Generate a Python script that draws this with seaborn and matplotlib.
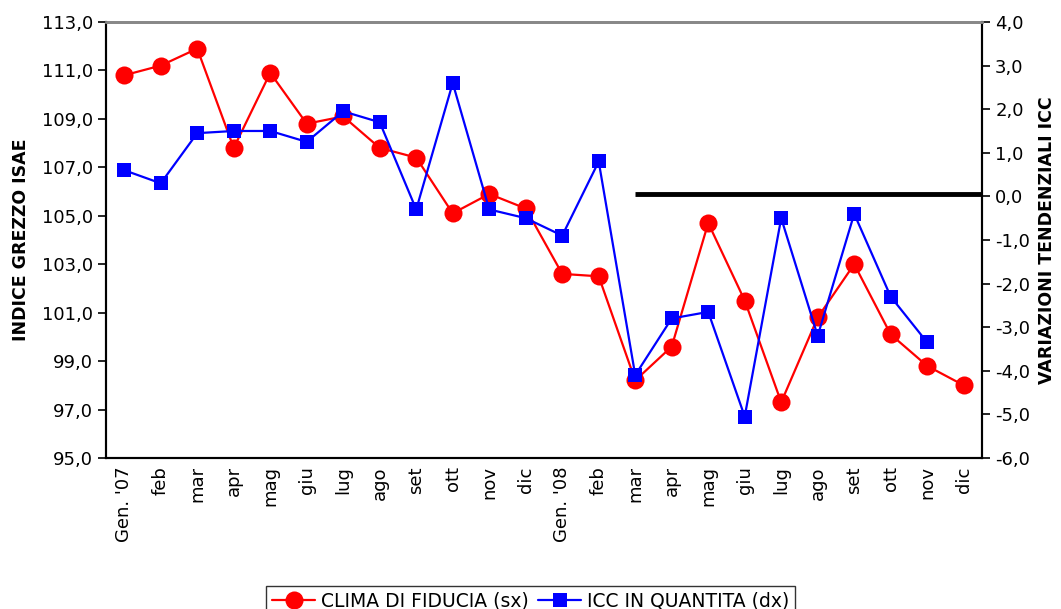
import numpy as np
import pandas as pd
import matplotlib
matplotlib.use("Agg")
import matplotlib.pyplot as plt
from matplotlib.ticker import FuncFormatter
import seaborn as sns

# dati
mesi = ["Gen. '07", "feb", "mar", "apr", "mag", "giu", "lug", "ago", "set", "ott", "nov", "dic",
        "Gen. '08", "feb", "mar", "apr", "mag", "giu", "lug", "ago", "set", "ott", "nov", "dic"]
clima = [110.8, 111.2, 111.9, 107.8, 110.9, 108.8, 109.1, 107.8, 107.4, 105.1, 105.9, 105.3,
         102.6, 102.5, 98.2, 99.6, 104.7, 101.5, 97.3, 100.8, 103.0, 100.1, 98.8, 98.0]
icc = [0.6, 0.3, 1.45, 1.5, 1.5, 1.25, 1.95, 1.7, -0.3, 2.6, -0.3, -0.5,
       -0.9, 0.8, -4.1, -2.8, -2.65, -5.05, -0.5, -3.2, -0.4, -2.3, -3.35]
soglia = 0.05
soglia_da = 14  # mar '08

sns.set_style("white")
plt.rcParams['font.family'] = ['DejaVu Sans']
plt.rcParams['text.color'] = 'black'
plt.rcParams['axes.labelcolor'] = 'black'
plt.rcParams['xtick.color'] = 'black'
plt.rcParams['ytick.color'] = 'black'

df1 = pd.DataFrame({'pos': np.arange(len(clima)), 'valore': clima})
df2 = pd.DataFrame({'pos': np.arange(len(icc)), 'valore': icc})

fig = plt.figure(figsize=(10.61, 6.09), dpi=100)
ax = fig.add_axes([0.0999, 0.248, 0.8256, 0.7159])
ax2 = ax.twinx()

sns.lineplot(data=df1, x='pos', y='valore', ax=ax, color='#ff0000', marker='o',
             markersize=13, markeredgewidth=0, linewidth=1.6, label='CLIMA DI FIDUCIA (sx)', legend=False)
sns.lineplot(data=df2, x='pos', y='valore', ax=ax2, color='#0000ff', marker='s',
             markersize=10, markeredgewidth=0, linewidth=1.6, label='ICC IN QUANTITA (dx)', legend=False)
ax2.plot([soglia_da, len(mesi) - 0.5], [soglia, soglia], color='black', linewidth=3.5, solid_capstyle='butt')

ax.set_xlim(-0.5, len(mesi) - 0.5)
ax.set_ylim(95, 113)
ax2.set_ylim(-6, 4)
ax.set_yticks(np.arange(95, 114, 2))
ax2.set_yticks(np.arange(-6, 5, 1))
virgola = FuncFormatter(lambda v, p: f"{v:.1f}".replace('.', ','))
ax.yaxis.set_major_formatter(virgola)
ax2.yaxis.set_major_formatter(virgola)

ax.set_xticks(np.arange(len(mesi)))
ax.set_xticklabels(mesi, rotation=90, fontsize=13)
ax.tick_params(axis='x', length=0, pad=6)
ax.tick_params(axis='y', labelsize=13, length=6, width=1.2, direction='out', left=True)
ax2.tick_params(axis='y', labelsize=13, length=6, width=1.2, direction='out', right=True)

ax.set_xlabel('')
ax.set_ylabel('INDICE GREZZO ISAE', fontsize=12.5, fontweight='bold', labelpad=8)
ax2.set_ylabel('VARIAZIONI TENDENZIALI ICC', fontsize=12.5, fontweight='bold', labelpad=6)

for a in (ax, ax2):
    for lato in ['left', 'right', 'bottom']:
        a.spines[lato].set_color('black')
        a.spines[lato].set_linewidth(1.5)
    a.spines['top'].set_color('#888888')
    a.spines['top'].set_linewidth(2)

h1, l1 = ax.get_legend_handles_labels()
h2, l2 = ax2.get_legend_handles_labels()
fig.legend(h1 + h2, l1 + l2, loc='upper center', bbox_to_anchor=(0.5, 0.038), ncol=2,
           fontsize=13.5, frameon=True, fancybox=False, edgecolor='black', borderpad=0.3,
           handlelength=2.3, handletextpad=0.3, columnspacing=0.5, borderaxespad=0)

fig.savefig('out.png', dpi=100)
